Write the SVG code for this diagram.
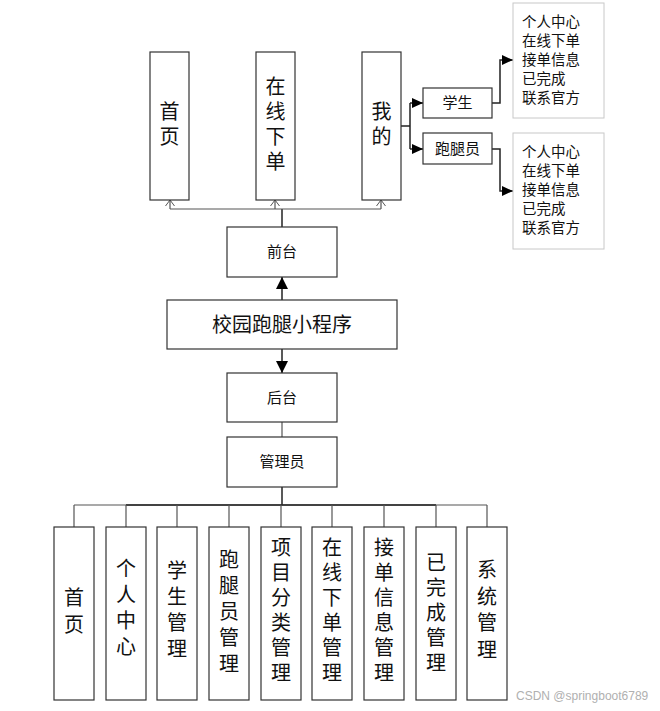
<svg xmlns="http://www.w3.org/2000/svg" width="660" height="711" viewBox="0 0 660 711">
<defs>
<style>
.box{fill:#fff;stroke:#333;stroke-width:1.2}
.lbox{fill:#fff;stroke:#c8c8c8;stroke-width:1}
.t{font-family:"Noto Sans CJK SC","Noto Sans",sans-serif;fill:#111;text-anchor:middle}
.v{font-size:20px}
.s{font-size:15px}
.l{font-family:"Noto Sans CJK SC","Noto Sans",sans-serif;fill:#111;font-size:14.5px}
.c{fill:none;stroke:#222;stroke-width:1.5}
.g{fill:none;stroke:#555;stroke-width:1.2}
</style>
<marker id="fa" markerUnits="userSpaceOnUse" markerWidth="12" markerHeight="12" refX="12" refY="6" orient="auto"><path d="M0,0 L12,6 L0,12 z" fill="#000"/></marker>
<marker id="fs" markerUnits="userSpaceOnUse" markerWidth="11" markerHeight="10" refX="11" refY="5" orient="auto"><path d="M0,0 L11,5 L0,10 z" fill="#000"/></marker>
<marker id="oa" markerUnits="userSpaceOnUse" markerWidth="6" markerHeight="10" refX="6" refY="5" orient="auto"><path d="M0,0.5 L6,5 L0,9.5" fill="none" stroke="#555" stroke-width="1"/></marker>
</defs>
<rect width="660" height="711" fill="#fff"/>

<g id="connectors">
<path class="c" d="M282,227 V209"/>
<path class="g" d="M170,209 H381"/>
<path class="g" d="M170,209 V200" marker-end="url(#oa)"/>
<path class="g" d="M275,209 V200" marker-end="url(#oa)"/>
<path class="g" d="M381,209 V200" marker-end="url(#oa)"/>
<path class="c" d="M282,300 V277" marker-end="url(#fa)"/>
<path class="c" d="M282,349 V373" marker-end="url(#fa)"/>
<path class="g" d="M282,422 V437"/>
<path class="c" d="M401,126 H410"/>
<path class="c" d="M410,103 V149"/>
<path class="c" d="M410,103 H423" marker-end="url(#fs)"/>
<path class="c" d="M410,149 H423" marker-end="url(#fs)"/>
<path class="c" d="M492,103 H500 V60 H513" marker-end="url(#fs)"/>
<path class="c" d="M492,149 H500 V191 H513" marker-end="url(#fs)"/>
<path class="c" d="M282,487 V505"/>
<path class="g" d="M74,505 H487"/>
<path class="c" d="M126,505 H436"/>
<path class="g" d="M74,505 V527 M126,505 V527 M177,505 V527 M229,505 V527 M281,505 V527 M332,505 V527 M384,505 V527 M436,505 V527 M487,505 V527"/>
</g>

<g id="n-shouye"><rect class="box" x="150" y="52" width="39" height="148"/>
<text class="t v" x="169.5"><tspan x="169.5" y="119">首</tspan><tspan x="169.5" y="144">页</tspan></text></g>
<g id="n-zaixian"><rect class="box" x="256" y="52" width="39" height="148"/>
<text class="t v"><tspan x="275.5" y="94">在</tspan><tspan x="275.5" y="119">线</tspan><tspan x="275.5" y="144">下</tspan><tspan x="275.5" y="169">单</tspan></text></g>
<g id="n-wode"><rect class="box" x="362" y="52" width="39" height="148"/>
<text class="t v"><tspan x="381.5" y="119">我</tspan><tspan x="381.5" y="144">的</tspan></text></g>

<g id="n-xuesheng"><rect class="box" x="423" y="88" width="69" height="30"/><text class="t s" x="457.5" y="108">学生</text></g>
<g id="n-paotuiyuan"><rect class="box" x="423" y="133" width="69" height="31"/><text class="t s" x="457.5" y="154">跑腿员</text></g>

<g id="n-list1"><rect class="lbox" x="513" y="3" width="91" height="115"/>
<text class="l"><tspan x="522" y="27">个人中心</tspan><tspan x="522" y="46">在线下单</tspan><tspan x="522" y="65">接单信息</tspan><tspan x="522" y="84">已完成</tspan><tspan x="522" y="103">联系官方</tspan></text></g>
<g id="n-list2"><rect class="lbox" x="513" y="133" width="91" height="116"/>
<text class="l"><tspan x="522" y="157">个人中心</tspan><tspan x="522" y="176">在线下单</tspan><tspan x="522" y="195">接单信息</tspan><tspan x="522" y="214">已完成</tspan><tspan x="522" y="233">联系官方</tspan></text></g>

<g id="n-qiantai"><rect class="box" x="227" y="227" width="110" height="50"/><text class="t s" x="282" y="257">前台</text></g>
<g id="n-main"><rect class="box" x="167" y="300" width="230" height="49"/><text class="t" style="font-size:20px" x="282" y="332">校园跑腿小程序</text></g>
<g id="n-houtai"><rect class="box" x="227" y="373" width="110" height="49"/><text class="t s" x="282" y="403">后台</text></g>
<g id="n-admin"><rect class="box" x="227" y="437" width="110" height="50"/><text class="t s" x="282" y="467">管理员</text></g>

<g id="b1"><rect class="box" x="54" y="527" width="40" height="173"/>
<text class="t v"><tspan x="74" y="605">首</tspan><tspan x="74" y="632">页</tspan></text></g>
<g id="b2"><rect class="box" x="106" y="527" width="40" height="173"/>
<text class="t v"><tspan x="126" y="576">个</tspan><tspan x="126" y="602">人</tspan><tspan x="126" y="628">中</tspan><tspan x="126" y="654">心</tspan></text></g>
<g id="b3"><rect class="box" x="157" y="527" width="40" height="173"/>
<text class="t v"><tspan x="177" y="578">学</tspan><tspan x="177" y="604">生</tspan><tspan x="177" y="630">管</tspan><tspan x="177" y="656">理</tspan></text></g>
<g id="b4"><rect class="box" x="209" y="527" width="40" height="173"/>
<text class="t v"><tspan x="229" y="567">跑</tspan><tspan x="229" y="593">腿</tspan><tspan x="229" y="619">员</tspan><tspan x="229" y="645">管</tspan><tspan x="229" y="671">理</tspan></text></g>
<g id="b5"><rect class="box" x="261" y="527" width="40" height="173"/>
<text class="t v"><tspan x="281" y="555">项</tspan><tspan x="281" y="580">目</tspan><tspan x="281" y="605">分</tspan><tspan x="281" y="630">类</tspan><tspan x="281" y="655">管</tspan><tspan x="281" y="680">理</tspan></text></g>
<g id="b6"><rect class="box" x="312" y="527" width="40" height="173"/>
<text class="t v"><tspan x="332" y="555">在</tspan><tspan x="332" y="580">线</tspan><tspan x="332" y="605">下</tspan><tspan x="332" y="630">单</tspan><tspan x="332" y="655">管</tspan><tspan x="332" y="680">理</tspan></text></g>
<g id="b7"><rect class="box" x="364" y="527" width="40" height="173"/>
<text class="t v"><tspan x="384" y="555">接</tspan><tspan x="384" y="580">单</tspan><tspan x="384" y="605">信</tspan><tspan x="384" y="630">息</tspan><tspan x="384" y="655">管</tspan><tspan x="384" y="680">理</tspan></text></g>
<g id="b8"><rect class="box" x="416" y="527" width="40" height="173"/>
<text class="t v"><tspan x="436" y="570">已</tspan><tspan x="436" y="595">完</tspan><tspan x="436" y="620">成</tspan><tspan x="436" y="645">管</tspan><tspan x="436" y="670">理</tspan></text></g>
<g id="b9"><rect class="box" x="467" y="527" width="40" height="173"/>
<text class="t v"><tspan x="487" y="577">系</tspan><tspan x="487" y="604">统</tspan><tspan x="487" y="630">管</tspan><tspan x="487" y="657">理</tspan></text></g>

<text x="516" y="700" style="font-family:'Liberation Sans',sans-serif;font-size:12px;fill:#b0b0b0">CSDN @springboot6789</text>
</svg>
